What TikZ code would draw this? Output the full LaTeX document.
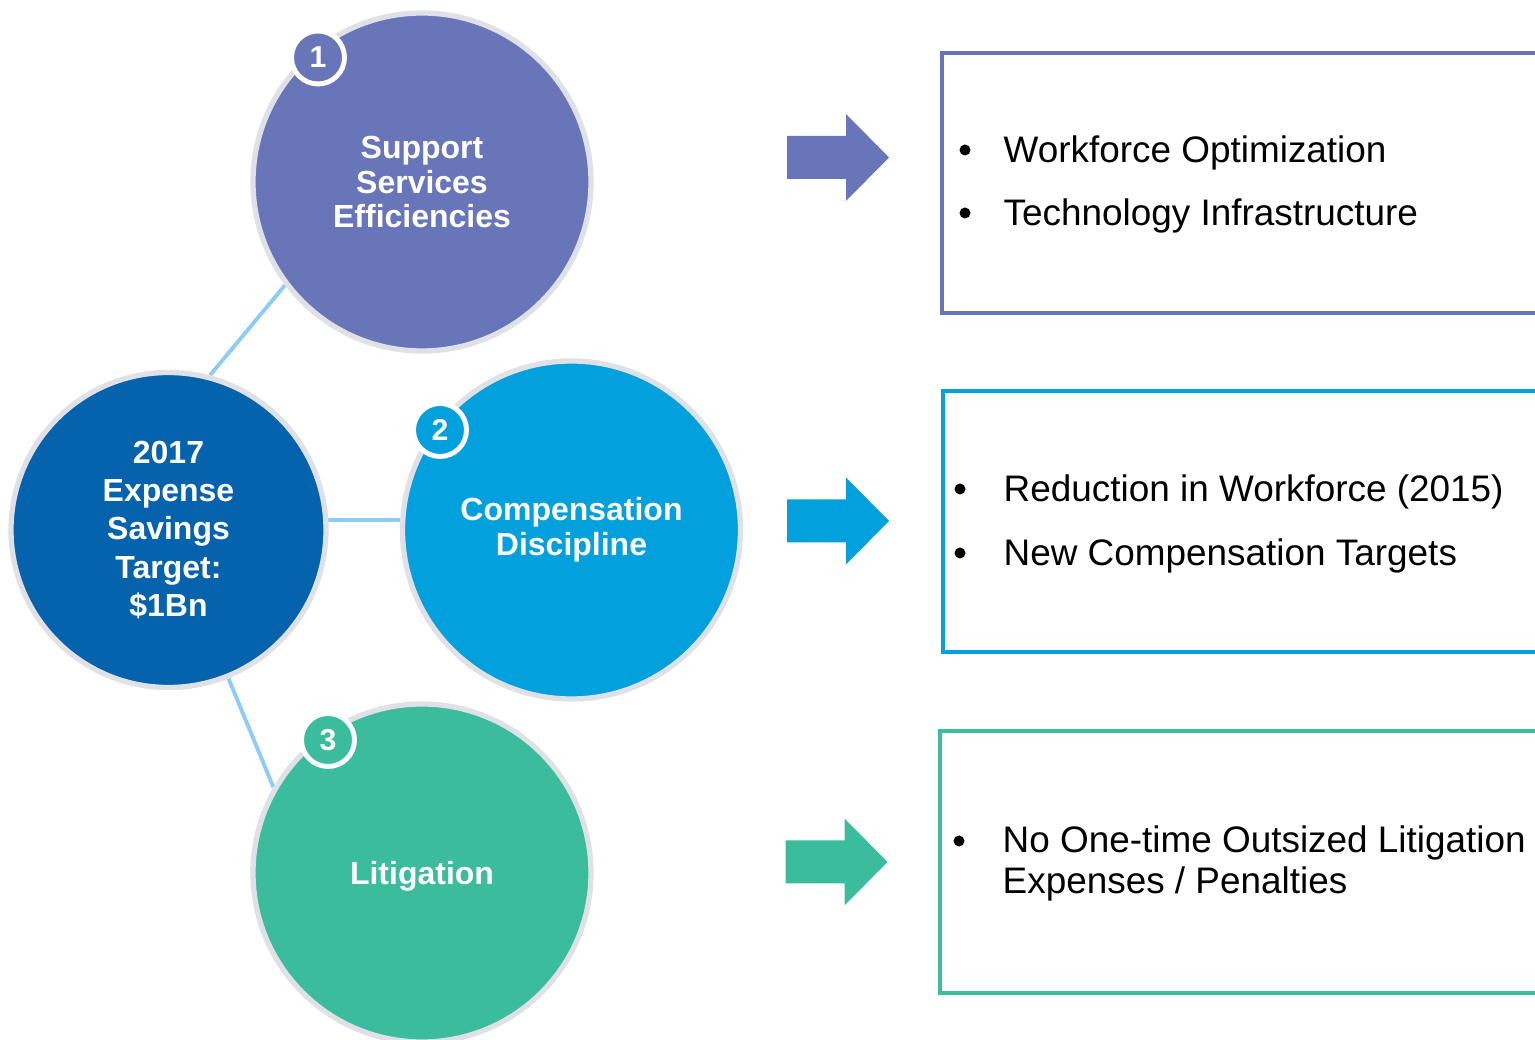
\documentclass[tikz,border=0pt]{standalone}
\usepackage{fontspec}
\setmainfont{Liberation Sans}
\usepackage{tikz}
\usetikzlibrary{backgrounds}

\definecolor{supportblue}{HTML}{6875B9}
\definecolor{hubblue}{HTML}{0562AD}
\definecolor{compblue}{HTML}{02A0DC}
\definecolor{litgreen}{HTML}{3BBC9D}
\definecolor{linkblue}{HTML}{8DCBF9}
\definecolor{rimgray}{HTML}{DFE1E6}

\tikzset{
	bigdisc/.style={circle, draw=rimgray, line width=1.5pt, inner sep=0pt, minimum size=3.38cm, text=white, align=center, font=\fontsize{9.1}{9.9}\selectfont\bfseries},
	badge/.style={circle, draw=white, line width=1.4pt, inner sep=0pt, minimum size=0.53cm, text=white, font=\fontsize{8.6}{9}\selectfont\bfseries},
	link/.style={linkblue, line width=1.1pt},
	listbox/.style={line width=1.4pt},
	itemtext/.style={anchor=base west, inner sep=0pt, font=\fontsize{10.5}{11.66}\selectfont},
	dot/.style={circle, fill=black, inner sep=0pt, minimum size=0.11cm}
}

\begin{document}
\begin{tikzpicture}
				\useasboundingbox (0,0) rectangle (15.35,-10.40);
				\clip (0,0) rectangle (15.35,-10.40);
				% circles
				\node[bigdisc, fill=hubblue, minimum size=3.15cm, font=\fontsize{9.1}{10.9}\selectfont\bfseries] (hub) at (1.685,-5.30) {2017\\Expense\\Savings\\Target:\\\$1Bn};
				\node[bigdisc, fill=supportblue] (sup) at (4.22,-1.82) {Support\\Services\\Efficiencies};
				\node[bigdisc, fill=compblue] (comp) at (5.715,-5.30) {Compensation\\Discipline};
				\node[bigdisc, fill=litgreen] (lit) at (4.22,-8.73) {};
				\node[text=white, font=\fontsize{9.1}{9.9}\selectfont\bfseries] (littext) at ([yshift=-0.03cm]lit.center) {Litigation};
				\node[badge, fill=supportblue] (num1) at (3.18,-0.575) {1};
				\node[badge, fill=compblue] (num2) at (4.40,-4.30) {2};
				\node[badge, fill=litgreen] (num3) at (3.28,-7.40) {3};
				\begin{scope}[on background layer]
					\draw[link] (hub.75) -- (sup.217);
					\draw[link] ([yshift=0.1cm]hub.center) -- ([yshift=0.1cm]comp.center);
					\draw[link] (hub.292) -- (lit.150);
				\end{scope}
				% arrows
				\foreach \c/\x/\y in {supportblue/7.87/1.575, compblue/7.87/5.21, litgreen/7.855/8.62} {
					\fill[\c] (\x,-\y+0.215) -- ++(0.59,0) -- ++(0,0.22) -- ++(0.43,-0.435) -- ++(-0.43,-0.435) -- ++(0,0.22) -- ++(-0.59,0) -- cycle;
				}
				% boxes
				\draw[listbox, supportblue] (9.42,-0.53) rectangle (15.6,-3.13);
				\draw[listbox, compblue] (9.43,-3.91) rectangle (15.6,-6.52);
				\draw[listbox, litgreen] (9.40,-7.31) rectangle (15.6,-9.93);
				% items
				\node[dot] (d1) at (9.65,-1.50) {};
				\node[itemtext] (t1) at (10.03,-1.63) {Workforce Optimization};
				\node[dot] (d2) at (9.65,-2.13) {};
				\node[itemtext] (t2) at (10.03,-2.26) {Technology Infrastructure};
				\node[dot] (d3) at (9.60,-4.89) {};
				\node[itemtext] (t3) at (10.03,-5.02) {Reduction in Workforce (2015)};
				\node[dot] (d4) at (9.60,-5.53) {};
				\node[itemtext] (t4) at (10.03,-5.66) {New Compensation Targets};
				\node[dot] (d5) at (9.59,-8.41) {};
				\node[itemtext] (t5) at (10.02,-8.53) {No One-time Outsized Litigation};
				\node[itemtext] (t6) at (10.02,-8.94) {Expenses / Penalties};
\end{tikzpicture}
\end{document}
